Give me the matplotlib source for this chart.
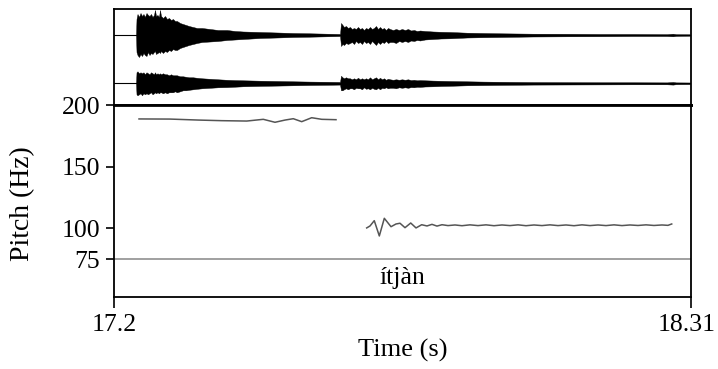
import matplotlib
matplotlib.use("Agg")
import matplotlib.pyplot as plt
import matplotlib.transforms as mtransforms
import numpy as np

plt.rcParams["font.family"] = ["Liberation Serif", "DejaVu Serif"]

# ---- waveform envelopes (two channels), time in seconds ----
wave_t = [17.2423, 17.2433, 17.2452, 17.2481, 17.2510, 17.2539, 17.2567, 17.2596,
          17.2625, 17.2654, 17.2683, 17.2712, 17.2741, 17.2769, 17.2789, 17.2808,
          17.2837, 17.2866, 17.2885, 17.2904, 17.2943, 17.2981, 17.3020, 17.3058,
          17.3097, 17.3135, 17.3173, 17.3212, 17.3270, 17.3327, 17.3385, 17.3443,
          17.3520, 17.3597, 17.3693, 17.3847, 17.4001, 17.4174, 17.4328, 17.4482,
          17.4809, 17.5136, 17.5443, 17.5770, 17.6098, 17.6348, 17.6367, 17.6396,
          17.6425, 17.6463, 17.6501, 17.6540, 17.6578, 17.6617, 17.6655, 17.6694,
          17.6732, 17.6771, 17.6809, 17.6848, 17.6886, 17.6925, 17.6963, 17.7002,
          17.7040, 17.7079, 17.7117, 17.7156, 17.7194, 17.7232, 17.7271, 17.7309,
          17.7367, 17.7425, 17.7483, 17.7540, 17.7598, 17.7656, 17.7713, 17.7771,
          17.7829, 17.7887, 17.7983, 17.8137, 17.8290, 17.8464, 17.8791, 17.9098,
          17.9425, 18.0060, 18.0714, 18.1349, 18.1984, 18.2638, 18.2753, 18.2811,
          18.3081]

ch1_pos = [0, 16, 21, 18, 22, 19, 21, 18, 22, 20, 19, 21, 18, 20, 25, 19,
           20, 18, 25, 19, 17, 19, 16, 17, 15, 16, 14, 14, 12, 11, 10, 9,
           8, 7, 7, 6, 5, 5, 4, 3.5, 3, 2.5, 2, 1.7, 1.3, 1, 12, 10,
           8, 9, 7, 8, 6, 7, 6, 8, 6, 7, 5, 7, 6, 8, 6, 7,
           9, 6, 8, 6, 7, 5, 7, 6, 5, 6, 5, 6, 5, 6, 4.5, 5,
           4, 4.5, 4, 3.5, 3.2, 3, 2.3, 2, 1.7, 1.3, 1.2, 1, 1, 0.8, 1.3, 0.8,
           0.7]
ch1_neg = [0, -17, -20, -22, -19, -21, -18, -20, -21, -17, -20, -18, -19, -17, -16, -19,
           -18, -17, -18, -16, -18, -16, -17, -15, -16, -14, -15, -15, -13, -12, -11, -10,
           -9, -8, -7, -6.5, -6, -5, -4.5, -4, -3, -2.5, -2, -1.7, -1.3, -1, -11, -9,
           -10, -8, -9, -8, -7, -9, -6, -8, -7, -9, -6, -8, -7, -9, -6, -8,
           -10, -7, -9, -7, -8, -6, -8, -7, -7, -8, -6, -7, -6, -7, -5.5, -6,
           -5, -5.5, -4.5, -4, -3.5, -3.3, -2.5, -2.2, -2, -1.5, -1.3, -1.2, -1, -1, -1.3, -0.9,
           -0.7]

ch2_pos = [0, 11, 12, 10, 11, 10, 11, 9, 11, 10, 9, 11, 10, 9, 11, 9,
           10, 9, 10, 9, 10, 9, 9, 8, 9, 8, 8, 8, 7, 7, 6.5, 6,
           6, 5.5, 5, 4.5, 4, 3.5, 3.2, 3, 2.6, 2.3, 2, 1.7, 1.5, 1.3, 7.5, 6,
           5, 6, 5, 5, 4, 5, 4, 5.5, 4, 5, 4, 5, 4, 6, 4, 5,
           6, 4, 5.5, 4, 5, 3.5, 4.5, 4, 3.5, 4, 3.5, 4, 3.5, 4, 3.2, 3.5,
           3, 3.2, 3, 2.7, 2.5, 2.3, 2, 1.7, 1.5, 1.2, 1.1, 1, 1, 0.9, 1.3, 0.9,
           0.8]
ch2_neg = [0, -11, -12, -11, -10, -12, -10, -11, -10, -11, -10, -9, -11, -10, -9, -10,
           -9, -10, -9, -9, -10, -9, -10, -9, -9, -9, -8, -9, -8, -7, -7, -6.5,
           -6, -5.5, -5, -4.5, -4, -3.8, -3.4, -3, -2.6, -2.3, -2, -1.7, -1.5, -1.3, -7, -7,
           -6, -5, -6, -5, -5, -6, -4.5, -5, -5, -6, -4, -5.5, -5, -6, -4.5, -5.5,
           -6, -4.5, -6, -4.5, -5, -4, -5, -4.5, -4.5, -5, -4, -4.5, -4, -4.5, -3.8, -4,
           -3.5, -3.6, -3.2, -3, -2.7, -2.5, -2, -1.8, -1.6, -1.3, -1.2, -1.1, -1, -1, -1.3, -0.9,
           -0.8]

# ---- pitch tracks (Hz) ----
pitch1_t = [17.2481, 17.3077, 17.3622, 17.4072, 17.4553, 17.4872, 17.5097, 17.5290,
            17.5449, 17.5611, 17.5803, 17.5996, 17.6271]
pitch1_hz = [188.7, 188.6, 187.8, 187.3, 187.0, 188.4, 186.0, 187.8,
             188.9, 186.5, 189.7, 188.4, 188.1]

pitch2_t = [17.6861, 17.6925, 17.7007, 17.7104, 17.7200, 17.7329, 17.7425, 17.7502,
            17.7598, 17.7708, 17.7810, 17.7919, 17.8021, 17.8117, 17.8213, 17.8310,
            17.8425, 17.8560, 17.8694, 17.8848, 17.9002, 17.9156, 17.9310, 17.9464,
            17.9618, 17.9772, 17.9926, 18.0080, 18.0233, 18.0387, 18.0541, 18.0695,
            18.0849, 18.1003, 18.1157, 18.1311, 18.1465, 18.1619, 18.1772, 18.1926,
            18.2080, 18.2234, 18.2388, 18.2542, 18.2657, 18.2729]
pitch2_hz = [100.4, 102.0, 106.3, 93.9, 108.2, 101.4, 103.6, 104.2,
             100.6, 104.4, 100.4, 103.0, 102.0, 103.3, 101.9, 103.0,
             102.3, 102.8, 102.2, 102.9, 102.3, 102.9, 102.2, 102.8,
             102.3, 102.9, 102.2, 102.8, 102.3, 102.9, 102.3, 102.8,
             102.2, 102.9, 102.3, 102.8, 102.3, 102.9, 102.3, 102.8,
             102.4, 102.9, 102.4, 102.8, 102.5, 103.6]

t_start, t_end = 17.2, 18.31
pitch_ticks = [75, 100, 150, 200]
x_ticks = [17.2, 18.31]
x_ticklabels = ["17.2", "18.31"]
word = "ítjàn"

W, H = 718, 369
fig = plt.figure(figsize=(W / 100, H / 100), dpi=100)

left = 114 / W
width = (691 - 114) / W
wave_ax = fig.add_axes([left, 1 - 105 / H, width, (105 - 9.3) / H])
pitch_ax = fig.add_axes([left, 1 - 297.3 / H, width, (297.3 - 105) / H])

# waveform panel
ch1_base, ch2_base = 70.0, 21.7
for base, pos, neg in ((ch1_base, ch1_pos, ch1_neg), (ch2_base, ch2_pos, ch2_neg)):
    wave_ax.axhline(base, color="black", lw=0.8, zorder=1)
    wave_ax.fill_between(wave_t, base + np.array(neg), base + np.array(pos),
                         color="black", lw=0.3, edgecolor="black", zorder=2)
wave_ax.set_xlim(t_start, t_end)
wave_ax.set_ylim(0, 95.7)
wave_ax.set_xticks([])
wave_ax.set_yticks([])
for name, sp in wave_ax.spines.items():
    sp.set_linewidth(1.3)
wave_ax.spines["bottom"].set_linewidth(2.0)

# pitch + text tier panel
pitch_ax.plot(pitch1_t, pitch1_hz, color="#555555", lw=1.1)
pitch_ax.plot(pitch2_t, pitch2_hz, color="#555555", lw=1.1)
pitch_ax.axhline(75, color="#999999", lw=1.3)
pitch_ax.set_xlim(t_start, t_end)
pitch_ax.set_ylim(44.2, 200)
pitch_ax.set_yticks(pitch_ticks)
pitch_ax.set_yticklabels([str(v) for v in pitch_ticks])
pitch_ax.set_xticks(x_ticks)
pitch_ax.set_xticklabels(x_ticklabels)
pitch_ax.tick_params(axis="y", direction="out", length=6, width=1.2, pad=4, labelsize=18.5)
pitch_ax.tick_params(axis="x", direction="out", length=8, width=1.2, pad=4, labelsize=18.5)
for name, sp in pitch_ax.spines.items():
    sp.set_linewidth(1.3)
pitch_ax.spines["top"].set_linewidth(2.0)
pitch_ax.text((t_start + t_end) / 2, 60, word, ha="center", va="center", fontsize=18.5)

# keep the right-hand time label inside the figure edge
last_lbl = pitch_ax.get_xticklabels()[-1]
last_lbl.set_transform(last_lbl.get_transform() +
                       mtransforms.ScaledTranslation(-4 / 100, 0, fig.dpi_scale_trans))

fig.text(22.5 / W, 1 - 204 / H, "Pitch (Hz)", rotation=90, ha="center", va="center",
         fontsize=20)
pitch_ax.set_xlabel("Time (s)", fontsize=19, labelpad=2)

fig.savefig("out.png", dpi=100)
